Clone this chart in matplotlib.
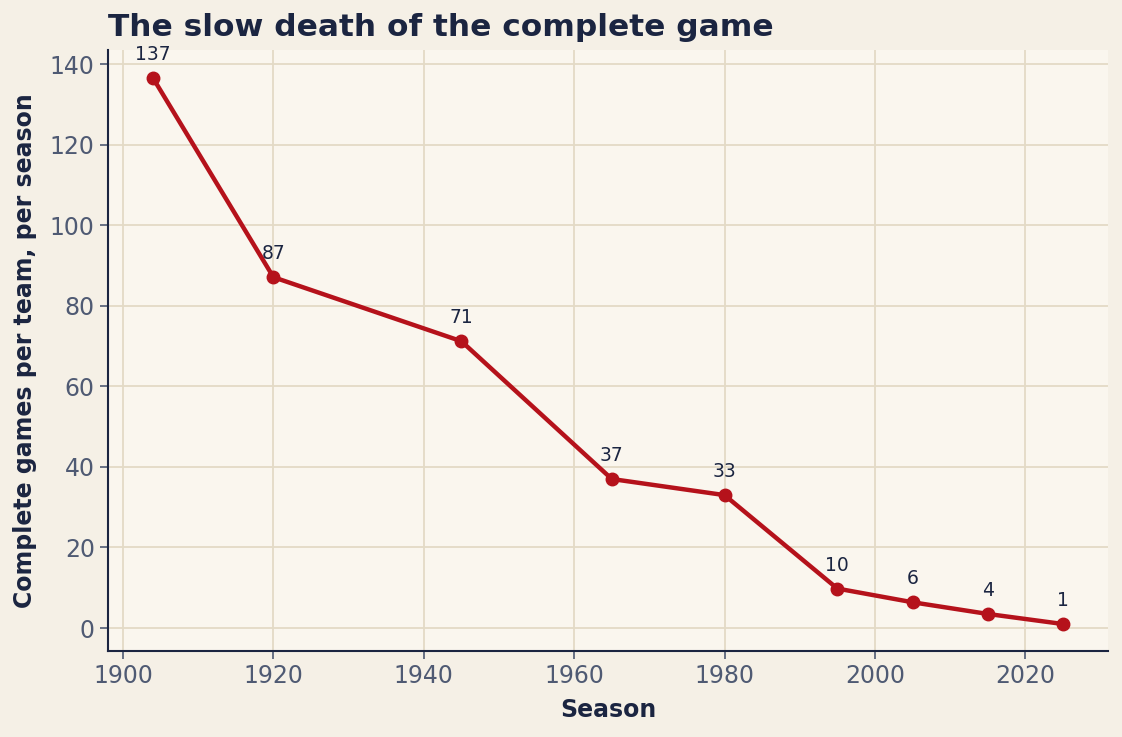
import matplotlib
matplotlib.use("Agg")
import matplotlib.pyplot as plt

seasons = [1904, 1920, 1945, 1965, 1980, 1995, 2005, 2015, 2025]
complete_games = [136.5, 87.1, 71.2, 37.0, 33.0, 9.8, 6.4, 3.5, 1.0]
labels = ["137", "87", "71", "37", "33", "10", "6", "4", "1"]

navy = "#1B2541"
red = "#B5121B"
tickc = "#4F5A73"

fig = plt.figure(figsize=(11.22, 7.37), dpi=100, facecolor="#F5F0E6")
ax = fig.add_axes([108/1122, 1-651/737, 1000/1122, 601/737])
ax.set_facecolor("#FAF6EE")

ax.plot(seasons, complete_games, color=red, lw=3.2, marker="o", ms=9, zorder=3)
for x, y, t in zip(seasons, complete_games, labels):
    ax.annotate(t, (x, y), xytext=(0, 10), textcoords="offset points",
                ha="center", va="bottom", fontsize=13.5, color=navy)

ax.set_xlim(1898, 2031)
ax.set_ylim(-5.7, 143.5)
ax.set_xticks(range(1900, 2021, 20))
ax.set_yticks(range(0, 141, 20))
ax.grid(True, color="#E3DAC6", lw=1.3)
ax.set_axisbelow(True)
for s in ["top", "right"]:
    ax.spines[s].set_visible(False)
for s in ["left", "bottom"]:
    ax.spines[s].set_color(navy)
    ax.spines[s].set_linewidth(1.5)
ax.tick_params(colors=tickc, labelsize=17, length=6, width=1.2)

ax.set_xlabel("Season", fontsize=17, fontweight="bold", color=navy, labelpad=7)
ax.set_ylabel("Complete games per team, per season", fontsize=17,
              fontweight="bold", color=navy, labelpad=9)
ax.set_title("The slow death of the complete game", loc="left", fontsize=22.5,
             fontweight="bold", color=navy, pad=10)

fig.savefig("out.png", dpi=100, facecolor=fig.get_facecolor())
